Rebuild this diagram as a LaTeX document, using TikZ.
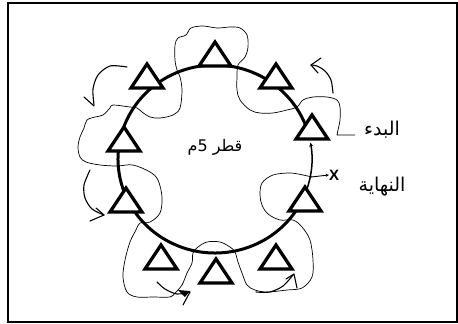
\documentclass[tikz,border=0pt]{standalone}
\usepackage{fontspec}
\setsansfont{Liberation Sans}
\newfontfamily\arabicfont[Script=Arabic]{DejaVu Sans}
\TeXXeTstate=1
\usetikzlibrary{arrows.meta}

\begin{document}
\begin{tikzpicture}[x=1pt, y=-1pt,
    ring/.style={line width=3pt},
    trail/.style={line width=0.7pt, line join=round},
    turn/.style={line width=1.1pt, line cap=round, line join=round},
    artext/.style={font=\fontsize{19}{22}\selectfont\arabicfont, inner sep=0pt},
    tri/.pic={\filldraw[fill=white, line width=3.2pt, line join=miter] (-16,12) -- (0,-12) -- (16,12) -- cycle;}
]
\useasboundingbox (0,0) rectangle (458,324);
\draw[line width=2pt] (8,3) rectangle (457,322);

\coordinate (c) at (215,159);
\draw[ring] ([shift={(12:97pt and 94pt)}]c) arc[start angle=12, end angle=340, x radius=97pt, y radius=94pt];
\draw[line width=1.5pt, -{Stealth[length=4pt, width=4pt]}] ([shift={(-20:97pt and 94pt)}]c) arc[start angle=-20, end angle=10, x radius=97pt, y radius=94pt];

\foreach \name/\x/\y in {t1/215/54, t2/147/76, t3/276/76, t4/124/139, t5/312/127,
                         t6/126/200, t7/305/199, t8/161/257, t9/216/271, t10/276/257}
  \pic (\name) at (\x,\y) {tri};

\node[artext] (start) at (382,130) {\beginR البدء\endR};
\node[artext] (finish) at (382,187) {\beginR النهاية\endR};
\node[artext, font=\fontsize{16}{19}\selectfont\arabicfont] (diam) at (215,147) {\beginR قطر 5م\endR};
\node[font=\fontsize{15}{17}\selectfont\sffamily\bfseries, inner sep=0pt] (xlab) at (334,175) {X};

\coordinate (lead) at (355,135);
\coordinate (xm) at (311,177);
\draw[line width=0.9pt, -{Stealth[length=3pt, width=3pt]}] (xm) -- (xlab.west);

\draw[trail] (lead) -- plot[smooth, tension=0.55] coordinates {
  (337,135) (338,130) (340,120) (340,107) (337,100) (327,97) (313,97) (303,100)
  (297,107) (287,110) (273,113) (260,113) (250,110) (240,100) (237,90) (237,77)
  (238,65) (245,57) (248,47) (247,35) (240,28) (230,27) (217,28) (203,26)
  (191,28) (186,35) (178,38) (175,45) (175,60) (177,70) (180,77) (182,90)
  (180,108) (173,115) (160,118) (150,117) (142,112) (137,108) (130,107) (113,105)
  (110,108) (103,115) (95,117) (87,120) (84,128) (80,137) (78,147) (80,157)
  (86,162) (100,165) (117,166) (133,165) (150,172) (158,180) (162,197) (160,213)
  (150,222) (140,223) (136,230) (130,242) (125,260) (123,277) (127,292) (137,297)
  (153,297) (170,297) (175,293) (182,285) (187,273) (192,263) (193,253) (198,247)
  (207,242) (220,242) (230,247) (235,252) (238,262) (242,273) (247,285) (255,290)
  (267,292) (287,290) (302,288) (312,277) (313,260) (310,240) (302,227) (293,220)
  (280,220) (268,214) (262,205) (260,195) (262,183) (273,175) (290,173) (303,175)
  (312,177)};

\draw[turn] plot[smooth] coordinates {(127,67) (110,66) (98,75) (93,89) (94,105)};
\draw[turn] (84,97) -- (94,106);
\draw[turn] plot[smooth] coordinates {(333,93) (331,80) (325,71) (317,66) (311,65)};
\draw[turn] (321,58) -- (311,65) -- (318,73);
\draw[turn] plot[smooth] coordinates {(90,170) (84,185) (85,198) (92,209) (104,215)};
\draw[turn] (96,208) -- (104,215) -- (90,221);
\draw[turn] plot[smooth] coordinates {(157,282) (165,289) (177,294) (190,292)};
\fill (178,290) -- (190,291) -- (185,297) -- cycle;
\draw[turn] (190,292) -- (183,305);
\draw[turn] plot[smooth] coordinates {(256,292) (270,292) (283,286) (293,275)};
\draw[turn] (286,279) -- (294,274) -- (297,288);
\end{tikzpicture}
\end{document}
